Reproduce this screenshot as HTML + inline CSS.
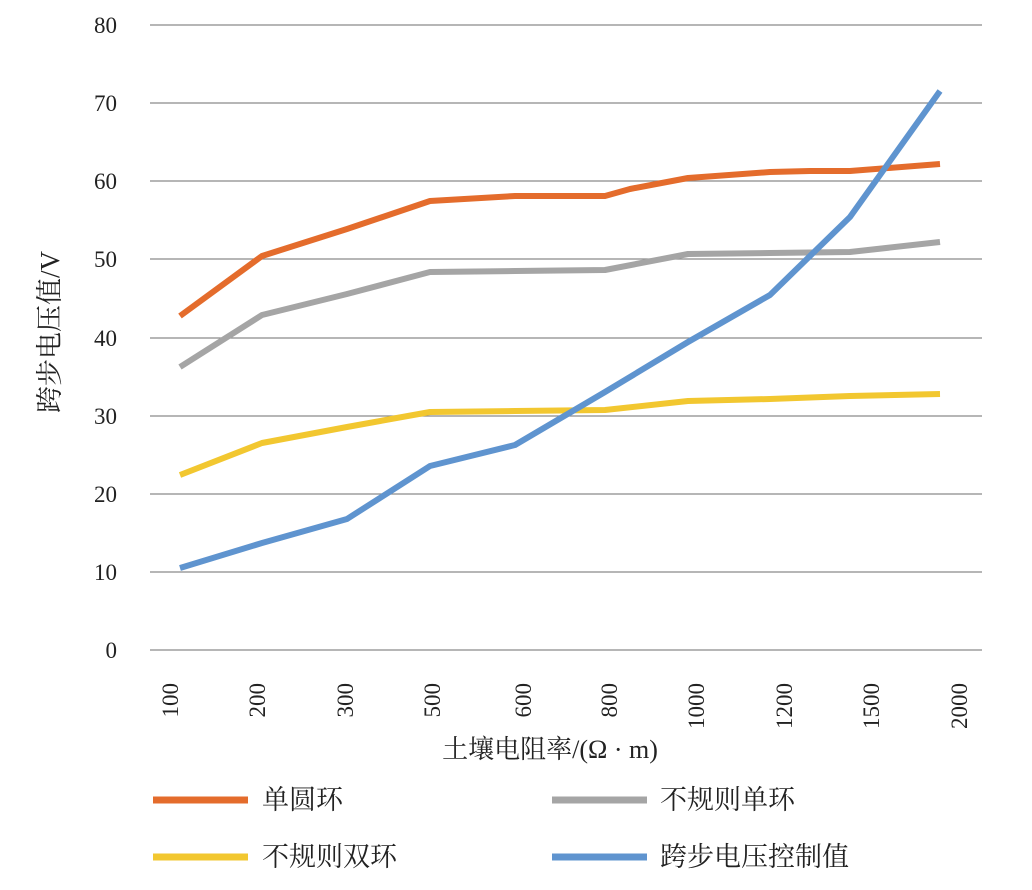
<!DOCTYPE html>
<html><head><meta charset="utf-8"><style>
html,body{margin:0;padding:0;background:#fff;}
svg text{font-family:"Liberation Serif","Noto Serif CJK SC",serif;fill:#222;}
</style></head><body>
<svg width="1032" height="885" viewBox="0 0 1032 885" xmlns="http://www.w3.org/2000/svg">
<g stroke="#8a8a8a" stroke-width="1.3">
<line x1="150" y1="25" x2="982" y2="25"/>
<line x1="150" y1="103" x2="982" y2="103"/>
<line x1="150" y1="181" x2="982" y2="181"/>
<line x1="150" y1="259" x2="982" y2="259"/>
<line x1="150" y1="338" x2="982" y2="338"/>
<line x1="150" y1="416" x2="982" y2="416"/>
<line x1="150" y1="494" x2="982" y2="494"/>
<line x1="150" y1="572" x2="982" y2="572"/>
<line x1="150" y1="650" x2="982" y2="650"/>
</g>
<g font-size="23" text-anchor="end">
<text x="117" y="33">80</text>
<text x="117" y="111">70</text>
<text x="117" y="189">60</text>
<text x="117" y="267">50</text>
<text x="117" y="346">40</text>
<text x="117" y="424">30</text>
<text x="117" y="502">20</text>
<text x="117" y="580">10</text>
<text x="117" y="658">0</text>
</g>
<g font-size="23" text-anchor="end">
<text transform="translate(178,683) rotate(-90)">100</text>
<text transform="translate(265,683) rotate(-90)">200</text>
<text transform="translate(353,683) rotate(-90)">300</text>
<text transform="translate(440,683) rotate(-90)">500</text>
<text transform="translate(531,683) rotate(-90)">600</text>
<text transform="translate(617,683) rotate(-90)">800</text>
<text transform="translate(704,683) rotate(-90)">1000</text>
<text transform="translate(792,683) rotate(-90)">1200</text>
<text transform="translate(879,683) rotate(-90)">1500</text>
<text transform="translate(967,683) rotate(-90)">2000</text>
</g>
<text x="550" y="758" font-size="26" text-anchor="middle">土壤电阻率/(Ω · m)</text>
<text transform="translate(59,332) rotate(-90)" font-size="27" text-anchor="middle">跨步电压值/V</text>
<g fill="none" stroke-width="6" stroke-linejoin="round" stroke-linecap="butt">
<polyline stroke="#f2c730" points="180,475 262,443 347,427 430,412 515,411 605,410 688,401 770,399 850,396 940,394"/>
<polyline stroke="#a5a5a5" points="180,367 262,315 347,294 430,272 515,271 605,270 688,254 770,253 850,252 940,242"/>
<polyline stroke="#e46c2c" points="180,316 262,256 347,229 430,201 515,196 605,196 630,189 688,178 770,172 810,171 850,171 940,164"/>
<polyline stroke="#5f94cf" points="180,568 262,543 347,519 430,466 515,445 605,392 688,342 770,295 850,217 940,91"/>
</g>
<g stroke-width="7">
<line x1="153" y1="800" x2="248" y2="800" stroke="#e46c2c"/>
<line x1="552" y1="800" x2="647" y2="800" stroke="#a5a5a5"/>
<line x1="153" y1="857" x2="248" y2="857" stroke="#f2c730"/>
<line x1="552" y1="857" x2="647" y2="857" stroke="#5f94cf"/>
</g>
<g font-size="27">
<text x="262" y="809">单圆环</text>
<text x="660" y="809">不规则单环</text>
<text x="262" y="866">不规则双环</text>
<text x="660" y="866">跨步电压控制值</text>
</g>
</svg>
</body></html>
